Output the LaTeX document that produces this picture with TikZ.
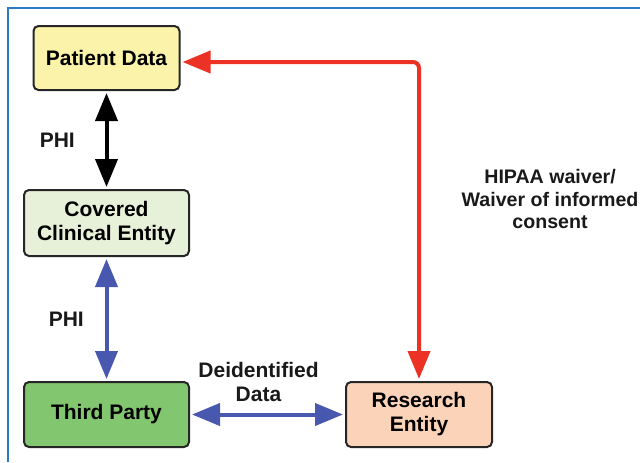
\documentclass[tikz,border=0pt]{standalone}
\usepackage{fontspec}
\setmainfont{Liberation Sans}
\usetikzlibrary{positioning,arrows.meta}

\definecolor{cadre}{HTML}{2A7BC6}
\definecolor{jaune}{HTML}{FAF3A9}
\definecolor{vertclair}{HTML}{E7F0D8}
\definecolor{vert}{HTML}{82C66F}
\definecolor{peche}{HTML}{FBD3B8}
\definecolor{bleu}{HTML}{4758AE}
\definecolor{rouge}{HTML}{EC3224}

\tikzset{
  boite/.style={draw=black!85, line width=1pt, rounded corners=2.5pt, align=center,
    font=\bfseries\fontsize{10.5}{12}\selectfont, inner sep=2pt},
  lien/.style={line width=2pt, <->, shorten >=1pt, shorten <=1pt},
  etiquette/.style={font=\bfseries\fontsize{10.5}{12}\selectfont, align=center, text=black!90}
}

\begin{document}
\begin{tikzpicture}[x=0.5pt,y=-0.5pt,>={Triangle[length=14pt,width=11pt]}]

    \useasboundingbox (0,0) rectangle (640,462);

    %Cadre
    \draw[cadre, line width=1pt] (8,462) -- (8,8) -- (640,8);

    %Boites
    \node[boite, fill=jaune, minimum width=73pt, minimum height=32pt] (patient) at (106.5,58) {Patient Data};
    \node[boite, fill=vertclair, minimum width=82.5pt, minimum height=33pt, below=49pt of patient] (clinique) {Covered\\Clinical Entity};
    \node[boite, fill=vert, minimum width=82.5pt, minimum height=32.5pt, below=62pt of clinique] (tiers) {Third Party};
    \node[boite, fill=peche, minimum width=73pt, minimum height=32.5pt, right=77.5pt of tiers] (recherche) {Research\\Entity};

    %Fleches
    \draw[lien, black] (patient) -- node[left=11.5pt, etiquette]{PHI} (clinique);
    \draw[lien, bleu] (clinique) -- node[left=7pt, etiquette]{PHI} (tiers);
    \draw[lien, bleu] (tiers) -- node[above=2pt, xshift=-4.5pt, etiquette]{Deidentified\\Data} (recherche);

    %Lien rouge
    \draw[lien, rouge, rounded corners=3pt] ([yshift=-2pt]patient.east) -| node[pos=0.715, right=17pt, etiquette, font=\bfseries\fontsize{9.8}{11.3}\selectfont]{HIPAA waiver/\\Waiver of informed\\consent} (recherche);

\end{tikzpicture}
\end{document}
